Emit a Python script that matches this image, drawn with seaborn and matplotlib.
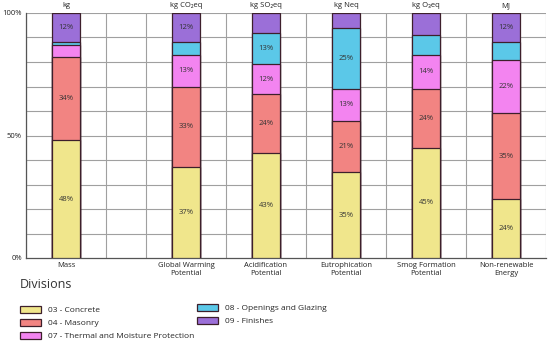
import numpy as np
import pandas as pd
import matplotlib
matplotlib.use("Agg")
import matplotlib.pyplot as plt
import matplotlib.patches as mpatches
import seaborn as sns

# impact categories (slot centres leave a gap after Mass)
categories = ["Mass", "Global Warming\nPotential", "Acidification\nPotential",
              "Eutrophication\nPotential", "Smog Formation\nPotential", "Non-renewable\nEnergy"]
units = ["kg", "kg CO\u2082eq", "kg SO\u2082eq", "kg Neq", "kg O\u2083eq", "MJ"]
positions = [0.5, 2.0, 3.0, 4.0, 5.0, 6.0]

divisions = ["03 - Concrete", "04 - Masonry", "07 - Thermal and Moisture Protection",
             "08 - Openings and Glazing", "09 - Finishes"]
concrete = [48, 37, 43, 35, 45, 24]
masonry = [34, 33, 24, 21, 24, 35]
thermal = [5, 13, 12, 13, 14, 22]
openings = [1, 5, 13, 25, 8, 7]
finishes = [12, 12, 8, 6, 9, 12]

colors = ["#f0e68c", "#f28482", "#f384f0", "#5bc8e8", "#9b6fd8"]
edge = "#3d1f2b"

sns.set_style("white")
plt.rcParams["font.family"] = ["Open Sans", "DejaVu Sans"]

fig = plt.figure(figsize=(5.5, 3.49), dpi=100)
ax = fig.add_axes([26 / 550, 1 - 258 / 349, 520 / 550, 245 / 349])

layers = [concrete, masonry, thermal, openings, finishes]
cum = np.cumsum(np.array(layers), axis=0)

# draw cumulative bars from top layer down so each layer sits on the one below
for i in range(len(layers) - 1, -1, -1):
    df = pd.DataFrame({"x": positions, "y": cum[i]})
    sns.barplot(data=df, x="x", y="y", native_scale=True, width=0.34,
                color=colors[i], saturation=1, edgecolor=edge, linewidth=0.9,
                ax=ax, zorder=3)

# segment labels
for i, vals in enumerate(layers):
    for j, v in enumerate(vals):
        if v >= 12:
            ax.text(positions[j], cum[i][j] - v / 2, f"{v}%", ha="center", va="center",
                    fontsize=5.5, color="#333333", zorder=5)

# unit labels above bars
for j, u in enumerate(units):
    ax.text(positions[j], 101.5, u, ha="center", va="bottom", fontsize=5.5, color="#222222")

ax.set_xlim(0, 6.5)
ax.set_ylim(0, 100)
ax.set_xlabel("")
ax.set_ylabel("")

for x in [0, 1, 1.5, 2.5, 3.5, 4.5, 5.5, 6.5]:
    ax.axvline(x, color="#a0a0a0", lw=0.8, zorder=1)
for y in range(10, 101, 10):
    ax.axhline(y, color="#a0a0a0", lw=0.8, zorder=1)

ax.set_xticks(positions)
ax.set_xticklabels(categories, fontsize=5.5, color="#222222", linespacing=1.1)
ax.set_yticks([0, 50, 100])
ax.set_yticklabels(["0%", "50%", "100%"], fontsize=5.5, color="#222222")
ax.tick_params(length=0, pad=3)
for s in ["top", "right"]:
    ax.spines[s].set_visible(False)
for s in ["left", "bottom"]:
    ax.spines[s].set_color("#555555")
    ax.spines[s].set_linewidth(0.9)

# legend: title plus two columns
fig.text(20 / 550, 1 - 285 / 349, "Divisions", fontsize=9, color="#333333", va="center")
handles = [mpatches.Patch(facecolor=c, edgecolor=edge, linewidth=0.9) for c in colors]
leg_kw = dict(frameon=False, fontsize=6, handlelength=2.5, handleheight=0.9,
              labelspacing=0.55, handletextpad=0.9, borderpad=0, borderaxespad=0)
leg1 = fig.legend(handles[:3], divisions[:3], loc="upper left",
                  bbox_to_anchor=(20 / 550, 1 - 306 / 349), **leg_kw)
fig.legend(handles[3:], divisions[3:], loc="upper left",
           bbox_to_anchor=(197 / 550, 1 - 304 / 349), **leg_kw)

fig.savefig("out.png", dpi=100)
